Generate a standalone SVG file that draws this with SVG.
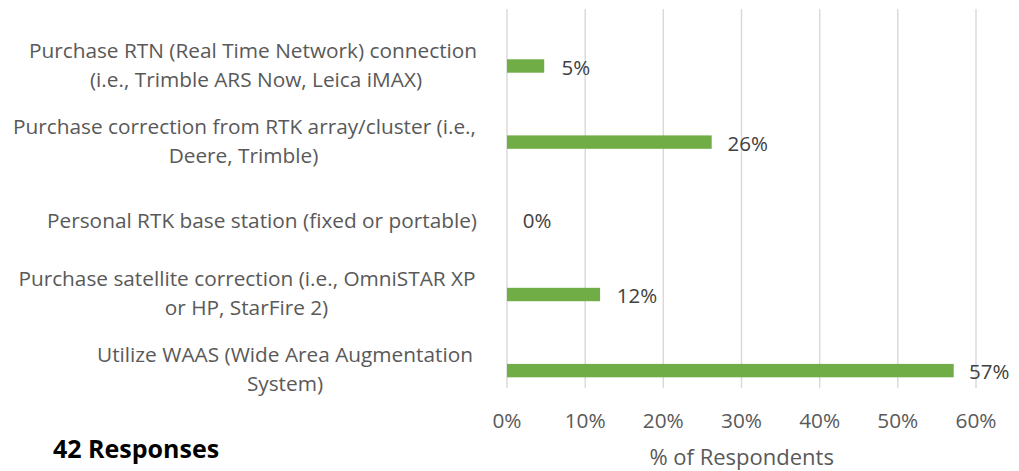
<svg xmlns="http://www.w3.org/2000/svg" width="1019" height="471" viewBox="0 0 1019 471">
<style>
.cat{font-family:"Open Sans","Liberation Sans",sans-serif;font-size:20.8px;fill:#595959;text-anchor:middle}
.val{font-family:"Open Sans","Liberation Sans",sans-serif;font-size:20.5px;fill:#404040}
.tick{font-family:"Open Sans","Liberation Sans",sans-serif;font-size:20.8px;fill:#595959;text-anchor:middle}
.title{font-family:"Open Sans","Liberation Sans",sans-serif;font-size:22px;fill:#595959;text-anchor:middle}
.grid{stroke:#d9d9d9;stroke-width:1.4}
.bar{fill:#70ad47}
</style>
<rect width="1019" height="471" fill="#ffffff"/>
<g id="gridlines">
<line class="grid" x1="507" y1="9" x2="507" y2="388"/>
<line class="grid" x1="585.2" y1="9" x2="585.2" y2="388"/>
<line class="grid" x1="663.3" y1="9" x2="663.3" y2="388"/>
<line class="grid" x1="741.5" y1="9" x2="741.5" y2="388"/>
<line class="grid" x1="819.7" y1="9" x2="819.7" y2="388"/>
<line class="grid" x1="897.8" y1="9" x2="897.8" y2="388"/>
<line class="grid" x1="976" y1="9" x2="976" y2="388"/>
</g>
<g id="cat1">
<text class="cat" x="253" y="58">Purchase RTN (Real Time Network) connection</text>
<text class="cat" x="256" y="87">(i.e., Trimble ARS Now, Leica iMAX)</text>
<rect class="bar" x="507" y="59.3" width="37.2" height="13.4"/>
<text class="val" x="561.5" y="74.5">5%</text>
</g>
<g id="cat2">
<text class="cat" x="244.5" y="134">Purchase correction from RTK array/cluster (i.e.,</text>
<text class="cat" x="243.5" y="163">Deere, Trimble)</text>
<rect class="bar" x="507" y="135.4" width="204.7" height="13.4"/>
<text class="val" x="727.5" y="150.5">26%</text>
</g>
<g id="cat3">
<text class="cat" x="262" y="227.5">Personal RTK base station (fixed or portable)</text>
<text class="val" x="522.7" y="227.5">0%</text>
</g>
<g id="cat4">
<text class="cat" x="247" y="286">Purchase satellite correction (i.e., OmniSTAR XP</text>
<text class="cat" x="246.5" y="315">or HP, StarFire 2)</text>
<rect class="bar" x="507" y="287.8" width="93.1" height="13.4"/>
<text class="val" x="616.7" y="303">12%</text>
</g>
<g id="cat5">
<text class="cat" x="285" y="362">Utilize WAAS (Wide Area Augmentation</text>
<text class="cat" x="285" y="391">System)</text>
<rect class="bar" x="507" y="363.9" width="446.7" height="13.4"/>
<text class="val" x="969" y="379">57%</text>
</g>
<g id="axis">
<text class="tick" x="507" y="427.7">0%</text>
<text class="tick" x="585.2" y="427.7">10%</text>
<text class="tick" x="663.3" y="427.7">20%</text>
<text class="tick" x="741.5" y="427.7">30%</text>
<text class="tick" x="819.7" y="427.7">40%</text>
<text class="tick" x="897.8" y="427.7">50%</text>
<text class="tick" x="976" y="427.7">60%</text>
<text class="title" x="741.7" y="464.5">% of Respondents</text>
</g>
<g id="responses">
<text x="53" y="457.7" font-family="'Open Sans','Liberation Sans',sans-serif" font-size="25" font-weight="bold" fill="#000000">42 Responses</text>
</g>
</svg>
